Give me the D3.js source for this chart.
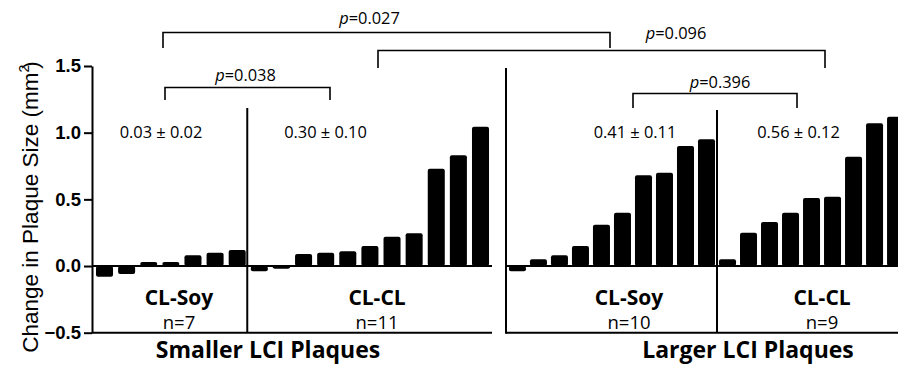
<!DOCTYPE html>
<html>
<head>
<meta charset="utf-8">
<script src="https://cdn.jsdelivr.net/npm/d3@7"></script>
<style>
    body { margin: 0; background: #fff; }
    svg { display: block; }
    .axis path, .axis line { stroke: #000; stroke-width: 2; }
    .axis text { font-family: 'Liberation Sans', Arial, sans-serif; font-weight: bold; font-size: 18.5px; fill: #000; }
    .ann { font-family: 'Open Sans', sans-serif; fill: #000; }
</style>
</head>
<body>
<script>
const width = 898;
const height = 368;

// values (change in plaque size, mm2)
const yTicks = [-0.5, 0.0, 0.5, 1.0, 1.5];
const smallSoy = [-0.08, -0.06, 0.03, 0.03, 0.08, 0.10, 0.12];
const smallCL = [-0.04, -0.02, 0.09, 0.10, 0.11, 0.15, 0.22, 0.245, 0.73, 0.83, 1.045];
const largeSoy = [-0.04, 0.05, 0.08, 0.15, 0.31, 0.40, 0.68, 0.70, 0.90, 0.95];
const largeCL = [0.05, 0.25, 0.33, 0.40, 0.51, 0.52, 0.82, 1.07, 1.12];
const groupNames = ['CL-Soy', 'CL-CL', 'CL-Soy', 'CL-CL'];
const groupN = ['n=7', 'n=11', 'n=10', 'n=9'];
const groupMeans = ['0.03 \u00b1 0.02', '0.30 \u00b1 0.10', '0.41 \u00b1 0.11', '0.56 \u00b1 0.12'];
const panelTitles = ['Smaller LCI Plaques', 'Larger LCI Plaques'];
const pValues = ['0.027', '0.096', '0.038', '0.396'];

// layout (pixels)
const yRange = [332.7, 66];
const panels = [
    { range: [92, 493], pi: 0.23, po: 0.18, groups: [smallSoy, smallCL], top: 66, divTop: 108, titleX: 268 },
    { range: [506, 907], pi: 0.19, po: 0.14, groups: [largeSoy, largeCL], top: 68, divTop: 110, titleX: 748 }
];
const groupLabelX = [179, 377, 629, 822];
const meanX = [161, 325.5, 635, 798.5];
const brackets = [ //x1, x2, bar y, foot y, label x, label y
    [163, 610, 32.5, 48, 369.5, 24],
    [378, 825, 50.5, 68, 676, 39],
    [165, 330, 87.5, 100, 245.5, 81],
    [633, 797, 93.5, 108, 720, 88]
];

const svg = d3.select('body').append('svg')
    .attr('width', width)
    .attr('height', height);

const y = d3.scaleLinear().domain([-0.5, 1.5]).range(yRange);

panels.forEach((panel, pIdx) => {
    const values = panel.groups.flat();
    const x = d3.scaleBand()
        .domain(d3.range(values.length))
        .range(panel.range)
        .paddingInner(panel.pi)
        .paddingOuter(panel.po);
    const g = svg.append('g');

    //bars
    g.selectAll('rect.bar').data(values).enter().append('rect')
        .attr('class', 'bar')
        .attr('x', (d, i) => x(i))
        .attr('width', x.bandwidth())
        .attr('y', (d) => Math.min(y(d), y(0)))
        .attr('height', (d) => Math.abs(y(d) - y(0)))
        .attr('rx', 2)
        .attr('fill', '#000');

    const left = panel.range[0];
    const right = Math.min(panel.range[1], width) - (pIdx === 0 ? 1 : 0);

    //zero line and bottom line
    g.append('line').attr('x1', left).attr('x2', right).attr('y1', y(0)).attr('y2', y(0))
        .attr('stroke', '#000').attr('stroke-width', 2);
    g.append('line').attr('x1', left).attr('x2', right).attr('y1', y(-0.5)).attr('y2', y(-0.5))
        .attr('stroke', '#000').attr('stroke-width', 2);

    //y axis (ticks only on the left panel)
    if (pIdx === 0) {
        const yaxis = d3.axisLeft(y).tickValues(yTicks).tickFormat(d3.format('.1f'))
            .tickSize(8).tickPadding(3).tickSizeOuter(0);
        g.append('g').attr('class', 'axis').attr('transform', `translate(${left},0)`).call(yaxis);
    } else {
        g.append('line').attr('x1', left).attr('x2', left).attr('y1', panel.top).attr('y2', y(-0.5) + 1)
            .attr('stroke', '#000').attr('stroke-width', 2);
    }

    //divider between the two groups
    const n0 = panel.groups[0].length;
    const divX = (x(n0 - 1) + x.bandwidth() + x(n0)) / 2 - (pIdx === 0 ? 1 : 0);
    g.append('line').attr('x1', divX).attr('x2', divX).attr('y1', panel.divTop).attr('y2', y(-0.5))
        .attr('stroke', '#000').attr('stroke-width', 2);

    //group labels
    panel.groups.forEach((grp, k) => {
        const gi = pIdx * 2 + k;
        g.append('text').attr('class', 'ann')
            .attr('x', groupLabelX[gi]).attr('y', 304.5)
            .attr('text-anchor', 'middle')
            .style('font-size', '21px').style('font-weight', 'bold')
            .text(groupNames[gi]);
        g.append('text').attr('class', 'ann')
            .attr('x', groupLabelX[gi]).attr('y', 328.5)
            .attr('text-anchor', 'middle')
            .style('font-size', '18.5px')
            .text(groupN[gi]);
        g.append('text').attr('class', 'ann')
            .attr('x', meanX[gi]).attr('y', 137.5)
            .attr('text-anchor', 'middle')
            .style('font-size', '16.4px')
            .text(groupMeans[gi]);
    });

    //panel title
    g.append('text').attr('class', 'ann')
        .attr('x', panel.titleX).attr('y', 358)
        .attr('text-anchor', 'middle')
        .style('font-size', '23px').style('font-weight', 'bold')
        .text(panelTitles[pIdx]);
});

//significance brackets
brackets.forEach((b, i) => {
    svg.append('path')
        .attr('d', `M${b[0]},${b[3]}V${b[2]}H${b[1]}V${b[3]}`)
        .attr('fill', 'none').attr('stroke', '#000').attr('stroke-width', 1.6);
    const t = svg.append('text').attr('class', 'ann')
        .attr('x', b[4]).attr('y', b[5])
        .attr('text-anchor', 'middle')
        .style('font-size', '16.4px');
    t.append('tspan').style('font-style', 'italic').text('p');
    t.append('tspan').text('=' + pValues[i]);
});

//y axis title
const ytitle = svg.append('text')
    .attr('transform', 'translate(38,207) rotate(-90)')
    .attr('text-anchor', 'middle')
    .style('font-family', "'Liberation Sans', Arial, sans-serif")
    .style('font-size', '22.5px');
ytitle.append('tspan').text('Change in Plaque Size (mm');
ytitle.append('tspan').attr('dy', -9).style('font-size', '14px').text('2');
ytitle.append('tspan').attr('dy', 9).attr('dx', -4).text(')');
</script>
</body>
</html>
